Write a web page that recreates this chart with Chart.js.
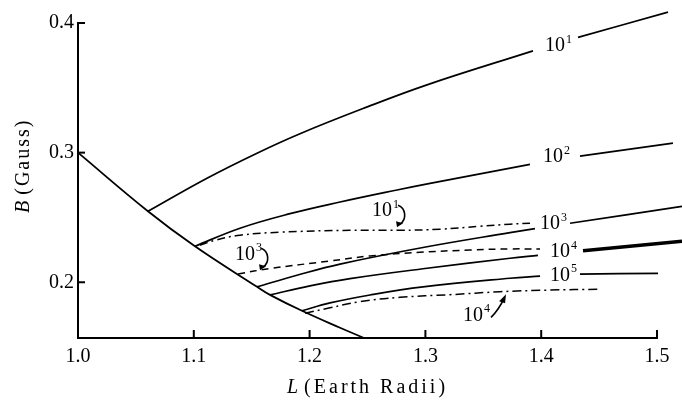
<!DOCTYPE html>
<html>
<head>
<meta charset="utf-8">
<script src="https://cdn.jsdelivr.net/npm/chart.js@4"></script>
<style>
  html, body { margin: 0; padding: 0; background: #fff; }
  #wrap { width: 682px; height: 400px; }
</style>
</head>
<body>
<div id="wrap"><canvas id="myChart" width="682" height="400"></canvas></div>
<script>
// axis ticks
const xTicks = [1.0, 1.1, 1.2, 1.3, 1.4, 1.5]
const yTicks = [0.2, 0.3, 0.4]

// [L, B] pairs, null = gap for a label
const boundary = [[1.0, 0.300], [1.0604, 0.2548], [1.1010, 0.2278], [1.1546, 0.1965], [1.1658, 0.1903],
  [1.1934, 0.1780], [1.2263, 0.1649], [1.2470, 0.1570]]
const solid1 = [[1.0604, 0.2548], [1.1114, 0.2803], [1.1546, 0.2996], [1.1917, 0.3146], [1.2461, 0.3340],
  [1.3014, 0.3523], [1.3929, 0.3785], [1.41, null], [1.4318, 0.3889], [1.5095, 0.4084]]
const solid2 = [[1.1010, 0.2278], [1.1399, 0.2417], [1.1831, 0.2529], [1.2263, 0.2619], [1.2755, 0.2712],
  [1.3040, 0.2763], [1.3903, 0.2909], [1.41, null], [1.4335, 0.2973], [1.5138, 0.3073]]
const solid3 = [[1.1546, 0.1965], [1.1891, 0.2054], [1.2263, 0.2140], [1.2979, 0.2268], [1.3731, 0.2383],
  [1.3946, 0.2414], [1.41, null], [1.4249, 0.2455], [1.5216, 0.2585]]
const solid4 = [[1.1658, 0.1903], [1.2003, 0.1972], [1.2349, 0.2028], [1.2979, 0.2104], [1.3731, 0.2185],
  [1.3972, 0.2208], [1.42, null], [1.4361, 0.2243], [1.5216, 0.2316]]
const solid5 = [[1.1934, 0.1780], [1.2176, 0.1841], [1.2522, 0.1902], [1.2979, 0.1964], [1.3731, 0.2031],
  [1.3990, 0.2047], [1.42, null], [1.4335, 0.2063], [1.5009, 0.2069]]
const dashed1 = [[1.1054, 0.2286], [1.1183, 0.2324], [1.1399, 0.2363], [1.1744, 0.2386], [1.2349, 0.2401],
  [1.2781, 0.2401], [1.3126, 0.2409], [1.3472, 0.2432], [1.3731, 0.2448], [1.3903, 0.2455]]
const dashed3 = [[1.1382, 0.2064], [1.1658, 0.2106], [1.2176, 0.2164], [1.2522, 0.2203], [1.2953, 0.2231],
  [1.3385, 0.2249], [1.3731, 0.2257], [1.3990, 0.2257]]
const dashed4 = [[1.1960, 0.1761], [1.2176, 0.1803], [1.2435, 0.1850], [1.2781, 0.1884], [1.3212, 0.1904],
  [1.3644, 0.1927], [1.4076, 0.1940], [1.4491, 0.1946]]

// curve labels: text, superscript, anchor (left edge, middle) in data units
const curveLabels = [
  { base: '10', sup: '1', x: 1.4033, y: 0.3822 },
  { base: '10', sup: '2', x: 1.4016, y: 0.2965 },
  { base: '10', sup: '3', x: 1.3990, y: 0.2448 },
  { base: '10', sup: '4', x: 1.4076, y: 0.2232 },
  { base: '10', sup: '5', x: 1.4076, y: 0.2054 },
  { base: '10', sup: '1', x: 1.2539, y: 0.2548, hook: 'curl' },
  { base: '10', sup: '3', x: 1.1356, y: 0.2216, hook: 'curl' },
  { base: '10', sup: '4', x: 1.3325, y: 0.1745, hook: 'arrow' }
]

const SERIF = '"Liberation Serif", "DejaVu Serif", serif'

function toPts(arr) {
  return arr.map(p => ({ x: p[0], y: p[1] }))
}

function lineSet(arr, opts) {
  return Object.assign({
    data: toPts(arr),
    showLine: true,
    borderColor: '#000',
    borderWidth: 1.7,
    pointRadius: 0,
    tension: 0.4,
    spanGaps: false,
    clip: false
  }, opts || {})
}

const decor = {
  id: 'decor',
  afterDatasetsDraw(chart) {
    const ctx = chart.ctx
    const xs = chart.scales.x
    const ys = chart.scales.y
    const a = chart.chartArea
    ctx.save()
    ctx.strokeStyle = '#000'
    ctx.fillStyle = '#000'
    ctx.lineWidth = 2
    // inward ticks
    xTicks.slice(1).forEach(v => {
      const px = xs.getPixelForValue(v)
      ctx.beginPath(); ctx.moveTo(px, a.bottom); ctx.lineTo(px, a.bottom - 8); ctx.stroke()
    })
    yTicks.forEach(v => {
      const py = ys.getPixelForValue(v)
      ctx.beginPath(); ctx.moveTo(a.left, py); ctx.lineTo(a.left + 7, py); ctx.stroke()
    })

    // curve labels
    ctx.textBaseline = 'middle'
    ctx.textAlign = 'left'
    curveLabels.forEach(l => {
      const lx = xs.getPixelForValue(l.x)
      const ly = ys.getPixelForValue(l.y)
      ctx.font = '20px ' + SERIF
      ctx.fillText(l.base, lx, ly)
      const w = ctx.measureText(l.base).width
      ctx.font = '12px ' + SERIF
      ctx.fillText(l.sup, lx + w + 1, ly - 6)
      ctx.lineWidth = 1.6
      if (l.hook === 'curl') {
        ctx.beginPath()
        ctx.moveTo(lx + 26, ly - 6)
        ctx.bezierCurveTo(lx + 34, ly - 3, lx + 35, ly + 8, lx + 28, ly + 13)
        ctx.stroke()
        ctx.beginPath()
        ctx.moveTo(lx + 25, ly + 16); ctx.lineTo(lx + 24, ly + 10); ctx.lineTo(lx + 31, ly + 12)
        ctx.closePath(); ctx.fill()
      } else if (l.hook === 'arrow') {
        ctx.beginPath()
        ctx.moveTo(lx + 28, ly + 2)
        ctx.quadraticCurveTo(lx + 36, ly - 6, lx + 41, ly - 17)
        ctx.stroke()
        ctx.beginPath()
        ctx.moveTo(lx + 43, ly - 21); ctx.lineTo(lx + 36, ly - 14); ctx.lineTo(lx + 42, ly - 12)
        ctx.closePath(); ctx.fill()
      }
    })

    // axis titles with italic symbols
    ctx.textBaseline = 'middle'
    ctx.letterSpacing = '3px'
    let x0 = 287
    ctx.font = 'italic 20px ' + SERIF
    ctx.fillText('L', x0, 388)
    x0 += ctx.measureText('L').width + 3
    ctx.font = '20px ' + SERIF
    ctx.fillText('(Earth Radii)', x0, 388)

    ctx.letterSpacing = '2px'
    ctx.translate(24, 213)
    ctx.rotate(-Math.PI / 2)
    ctx.font = 'italic 20px ' + SERIF
    ctx.fillText('B', 0, 0)
    let y0 = ctx.measureText('B').width + 4
    ctx.font = '20px ' + SERIF
    ctx.fillText('(Gauss)', y0, 0)
    ctx.restore()
  }
}

const chartCtx = document.getElementById('myChart')
new Chart(chartCtx, {
  type: 'scatter',
  data: {
    datasets: [
      lineSet(boundary, { borderWidth: 1.8 }),
      lineSet(solid1),
      lineSet(solid2),
      lineSet(solid3),
      lineSet(solid4, {
        segment: { borderWidth: c => (c.p0.parsed.x > 1.42 ? 3.4 : 1.7) }
      }),
      lineSet(solid5),
      lineSet(dashed1, { borderDash: [8, 4, 2, 4], borderWidth: 1.5 }),
      lineSet(dashed3, { borderDash: [7, 5], borderWidth: 1.5 }),
      lineSet(dashed4, { borderDash: [9, 4, 2, 4], borderWidth: 1.5 })
    ]
  },
  options: {
    responsive: false,
    animation: false,
    layout: { padding: { left: 0, right: 25, top: 23, bottom: 0 } },
    plugins: { legend: { display: false }, tooltip: { enabled: false } },
    scales: {
      x: {
        type: 'linear',
        min: 1.0,
        max: 1.5,
        afterFit: s => { s.height = 62 },
        afterBuildTicks: s => { s.ticks = xTicks.map(v => ({ value: v })) },
        grid: { drawOnChartArea: false, drawTicks: false },
        border: { display: true, color: '#000', width: 2 },
        ticks: {
          padding: 7,
          color: '#000',
          font: { family: SERIF, size: 20 },
          callback: v => v.toFixed(1)
        }
      },
      y: {
        type: 'linear',
        min: 0.157,
        max: 0.4,
        afterFit: s => { s.width = 78 },
        afterBuildTicks: s => { s.ticks = yTicks.map(v => ({ value: v })) },
        grid: { drawOnChartArea: false, drawTicks: false },
        border: { display: true, color: '#000', width: 2 },
        ticks: {
          padding: 4,
          color: '#000',
          font: { family: SERIF, size: 20 },
          callback: v => v.toFixed(1)
        }
      }
    }
  },
  plugins: [decor]
})
</script>
</body>
</html>
